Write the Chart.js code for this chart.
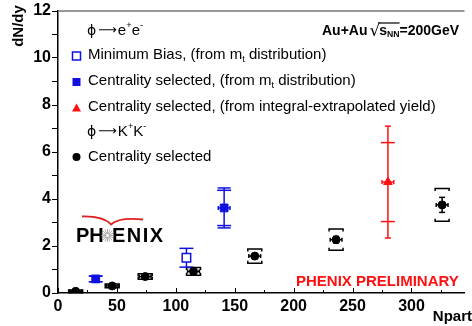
<!DOCTYPE html>
<html>
<head>
<meta charset="utf-8">
<script src="https://cdn.jsdelivr.net/npm/chart.js@4.4.1/dist/chart.umd.min.js"></script>
<style>
  html, body { margin: 0; padding: 0; background: #fff; }
</style>
</head>
<body>
<canvas id="myChart" width="472" height="326"></canvas>
<script>
// phi -> K+K-, centrality selected
const npartKK = [15, 46, 74, 115, 167, 236, 326];
const dndyKK  = [0.07, 0.3, 0.7, 0.92, 1.57, 2.27, 3.75];
const statKK  = [0.03, 0.04, 0.05, 0.08, 0.1, 0.14, 0.32];
const sysKK   = [0.06, 0.08, 0.12, 0.16, 0.3, 0.45, 0.7];
const xerrKK  = [5, 5, 5, 5, 5, 5, 5];

// phi -> e+e-, minimum bias (from mt distribution)
const npartMB = [109];
const dndyMB  = [1.5];
const statMB  = [0.4];

// phi -> e+e-, centrality selected (from mt distribution)
const npartCent = [32, 141];
const dndyCent  = [0.6, 3.62];
const statCent  = [0.12, 0.85];
const sysCent   = [0.12, 0.75];
const xerrCent  = [0, 5];

// phi -> e+e-, centrality selected (from integral-extrapolated yield)
const npartInt = [280];
const dndyInt  = [4.72];
const statInt  = [2.38];
const sysInt   = [1.68];
const xerrInt  = [5];

// axis ticks
const yTicks = [0, 2, 4, 6, 8, 10, 12];
const xTicks = [0, 50, 100, 150, 200, 250, 300];

const FONT = '"Liberation Sans", Arial, Helvetica, sans-serif';
const BLUE = '#1010e0';
const RED = '#ff1010';

function pts(xs, ys) {
  return xs.map((v, i) => ({ x: v, y: ys[i] }));
}

// draws stat / sys / npart error bars before the markers
const errorBarPlugin = {
  id: 'errorBars',
  beforeDatasetsDraw(chart) {
    const { ctx, scales: { x, y } } = chart;
    chart.data.datasets.forEach((ds) => {
      const eb = ds.errorBars;
      if (!eb) return;
      ctx.save();
      ctx.strokeStyle = ds.borderColor;
      ctx.lineWidth = 1.5;
      const seg = (x1, y1, x2, y2) => {
        ctx.beginPath(); ctx.moveTo(x1, y1); ctx.lineTo(x2, y2); ctx.stroke();
      };
      ds.data.forEach((p, i) => {
        const px = x.getPixelForValue(p.x);
        const py = y.getPixelForValue(p.y);
        if (eb.xerr && eb.xerr[i]) {
          const l = x.getPixelForValue(p.x - eb.xerr[i]);
          const r = x.getPixelForValue(p.x + eb.xerr[i]);
          seg(l, py, r, py);
          seg(l, py - 2, l, py + 2);
          seg(r, py - 2, r, py + 2);
        }
        if (eb.stat) {
          const t = y.getPixelForValue(p.y + eb.stat[i]);
          const b = y.getPixelForValue(p.y - eb.stat[i]);
          seg(px, t, px, b);
          seg(px - eb.statCap, t, px + eb.statCap, t);
          seg(px - eb.statCap, b, px + eb.statCap, b);
        }
        if (eb.sys) {
          const t = y.getPixelForValue(p.y + eb.sys[i]);
          const b = y.getPixelForValue(p.y - eb.sys[i]);
          const w = 7;
          if (eb.bracket) {
            ctx.beginPath();
            ctx.moveTo(px - w, t + 2.5); ctx.lineTo(px - w, t); ctx.lineTo(px + w, t); ctx.lineTo(px + w, t + 2.5);
            ctx.moveTo(px - w, b - 2.5); ctx.lineTo(px - w, b); ctx.lineTo(px + w, b); ctx.lineTo(px + w, b - 2.5);
            ctx.stroke();
          } else {
            seg(px - w, t, px + w, t);
            seg(px - w, b, px + w, b);
          }
        }
      });
      ctx.restore();
    });
  }
};

function richText(ctx, parts, x, y, size, bold) {
  let cx = x;
  parts.forEach((p) => {
    const s = p.size || (p.sup || p.sub ? size * 0.62 : size);
    ctx.font = (bold ? 'bold ' : '') + s + 'px ' + (p.font || FONT);
    let dy = p.dy || 0;
    if (p.sup) dy = -size * 0.38;
    if (p.sub) dy = size * 0.28;
    ctx.fillText(p.t, cx, y + dy);
    cx += ctx.measureText(p.t).width + (p.gap || 0);
  });
  return cx;
}

function marker(ctx, style, x, y, color) {
  ctx.save();
  ctx.lineWidth = 1.5;
  ctx.strokeStyle = color;
  ctx.fillStyle = color;
  ctx.beginPath();
  if (style === 'openRect') {
    ctx.fillStyle = '#fff';
    ctx.rect(x - 4, y - 4, 8, 8);
    ctx.fill(); ctx.stroke();
  } else if (style === 'rect') {
    ctx.rect(x - 4, y - 4, 8, 8);
    ctx.fill();
  } else if (style === 'triangle') {
    ctx.moveTo(x, y - 4.5); ctx.lineTo(x + 4.5, y + 3.5); ctx.lineTo(x - 4.5, y + 3.5);
    ctx.closePath(); ctx.fill();
  } else {
    ctx.arc(x, y, 4, 0, Math.PI * 2);
    ctx.fill();
  }
  ctx.restore();
}

const ARROW = { t: '⟶', font: '"DejaVu Sans", sans-serif', size: 13, gap: 1 };
const PHI = { t: 'ϕ', font: '"DejaVu Sans", sans-serif', size: 14, gap: 2 };

const decorPlugin = {
  id: 'decor',
  afterDraw(chart) {
    const { ctx, chartArea: a, scales: { x, y } } = chart;
    ctx.save();

    // top frame line
    ctx.strokeStyle = '#777';
    ctx.lineWidth = 1.5;
    ctx.beginPath(); ctx.moveTo(a.left, a.top); ctx.lineTo(a.right, a.top); ctx.stroke();

    // x ticks point inwards
    ctx.strokeStyle = '#000';
    ctx.lineWidth = 1;
    for (let v = 0; v <= x.max; v += 25) {
      const px = Math.round(x.getPixelForValue(v)) + 0.5;
      const len = v % 50 === 0 ? 5 : 3;
      ctx.beginPath(); ctx.moveTo(px, a.bottom); ctx.lineTo(px, a.bottom - len); ctx.stroke();
    }

    ctx.fillStyle = '#000';
    ctx.textBaseline = 'middle';
    ctx.textAlign = 'left';

    // legend
    const fs = 15;
    richText(ctx, [PHI, ARROW, { t: 'e' }, { t: '+', sup: true }, { t: 'e' }, { t: '-', sup: true }], 87, 31, fs);
    marker(ctx, 'openRect', 76.5, 56, BLUE);
    richText(ctx, [{ t: 'Minimum Bias, (from m' }, { t: 't', sub: true }, { t: ' distribution)' }], 88, 55, fs);
    marker(ctx, 'rect', 76.5, 82, BLUE);
    richText(ctx, [{ t: 'Centrality selected, (from m' }, { t: 't', sub: true }, { t: ' distribution)' }], 88, 81, fs);
    marker(ctx, 'triangle', 76.5, 108, RED);
    richText(ctx, [{ t: 'Centrality selected, (from integral-extrapolated yield)' }], 88, 107, fs);
    richText(ctx, [PHI, ARROW, { t: 'K' }, { t: '+', sup: true }, { t: 'K' }, { t: '-', sup: true }], 87, 132, fs);
    marker(ctx, 'circle', 76.5, 157, '#000');
    richText(ctx, [{ t: 'Centrality selected' }], 88, 157, fs);

    // Au+Au sqrt(sNN)=200GeV
    let cx = richText(ctx, [{ t: 'Au+Au ' }], 322, 31, 14, true);
    ctx.font = '17px "DejaVu Sans", sans-serif';
    ctx.fillText('√', cx - 2, 32);
    cx += ctx.measureText('√').width - 3;
    const barStart = cx - 1;
    cx = richText(ctx, [{ t: 's' }, { t: 'NN', sub: true }], cx, 31, 14, true);
    ctx.lineWidth = 1.2;
    ctx.beginPath(); ctx.moveTo(barStart, 23); ctx.lineTo(cx, 23); ctx.stroke();
    richText(ctx, [{ t: '=200GeV' }], cx, 31, 14, true);

    // axis titles
    ctx.font = 'bold 15px ' + FONT;
    ctx.textAlign = 'right';
    ctx.fillText('Npart', 472, 317);
    ctx.save();
    ctx.translate(19, 26);
    ctx.rotate(-Math.PI / 2);
    ctx.textAlign = 'center';
    ctx.fillText('dN/dy', 0, 0);
    ctx.restore();

    // preliminary label
    ctx.fillStyle = RED;
    ctx.textAlign = 'left';
    ctx.font = 'bold 15px ' + FONT;
    ctx.fillText('PHENIX PRELIMINARY', 296, 282);

    // PHENIX logo
    ctx.strokeStyle = '#e02020';
    ctx.lineWidth = 1.8;
    ctx.beginPath();
    ctx.moveTo(82, 216.5);
    ctx.quadraticCurveTo(103, 216, 111, 224.5);
    ctx.quadraticCurveTo(119, 217, 143, 219.5);
    ctx.stroke();
    ctx.fillStyle = '#000';
    ctx.font = 'bold 20px ' + FONT;
    ctx.fillText('PH', 76, 236);
    ctx.letterSpacing = '1.5px';
    ctx.fillText('ENIX', 112, 236);
    ctx.letterSpacing = '0px';
    ctx.strokeStyle = '#999';
    ctx.lineWidth = 0.8;
    for (let k = 0; k < 16; k++) {
      const ang = k * Math.PI / 8;
      ctx.beginPath();
      ctx.moveTo(107.5 + Math.cos(ang) * 1.5, 235.5 + Math.sin(ang) * 1.5);
      ctx.lineTo(107.5 + Math.cos(ang) * 6.5, 235.5 + Math.sin(ang) * 6.5);
      ctx.stroke();
    }

    ctx.restore();
  }
};

const data = {
  datasets: [
    {
      label: 'Centrality selected (K+K-)',
      data: pts(npartKK, dndyKK),
      pointStyle: 'circle',
      pointRadius: 4,
      backgroundColor: '#000',
      borderColor: '#000',
      errorBars: { stat: statKK, statCap: 3, sys: sysKK, bracket: true, xerr: xerrKK }
    },
    {
      label: 'Minimum Bias',
      data: pts(npartMB, dndyMB),
      pointStyle: 'rect',
      pointRadius: 6,
      pointBorderWidth: 1.5,
      backgroundColor: '#fff',
      borderColor: BLUE,
      errorBars: { stat: statMB, statCap: 7 }
    },
    {
      label: 'Centrality selected (mt)',
      data: pts(npartCent, dndyCent),
      pointStyle: 'rect',
      pointRadius: 5.5,
      backgroundColor: BLUE,
      borderColor: BLUE,
      errorBars: { stat: statCent, statCap: 6.5, sys: sysCent, xerr: xerrCent }
    },
    {
      label: 'Centrality selected (integral)',
      data: pts(npartInt, dndyInt),
      pointStyle: 'triangle',
      pointRadius: 5,
      backgroundColor: RED,
      borderColor: RED,
      errorBars: { stat: statInt, statCap: 3, sys: sysInt, xerr: xerrInt }
    }
  ]
};

const config = {
  type: 'scatter',
  data: data,
  options: {
    responsive: false,
    animation: false,
    layout: { padding: { top: 11, right: 0, left: 0, bottom: 0 } },
    plugins: { legend: { display: false }, tooltip: { enabled: false } },
    scales: {
      x: {
        type: 'linear',
        min: 0,
        max: 345,
        afterFit: (s) => { s.height = 33; },
        afterBuildTicks: (s) => { s.ticks = xTicks.map((v) => ({ value: v })); },
        grid: { display: false, drawTicks: false },
        border: { display: true, color: '#000', width: 1.5 },
        ticks: { color: '#000', padding: 4, font: { family: FONT, size: 16, weight: 'bold' } }
      },
      y: {
        type: 'linear',
        min: 0,
        max: 12,
        afterFit: (s) => { s.width = 58; },
        afterBuildTicks: (s) => {
          const t = [];
          for (let v = 0; v <= 12; v++) t.push({ value: v });
          s.ticks = t;
        },
        grid: { display: true, drawOnChartArea: false, drawTicks: true, tickLength: 6, tickColor: '#000', color: '#000' },
        border: { display: true, color: '#000', width: 1.5 },
        ticks: {
          color: '#000',
          padding: 1,
          font: { family: FONT, size: 16, weight: 'bold' },
          callback: (v) => (yTicks.includes(v) ? v : '')
        }
      }
    }
  },
  plugins: [errorBarPlugin, decorPlugin]
};

var chart = new Chart(document.getElementById('myChart').getContext('2d'), config);
</script>
</body>
</html>
